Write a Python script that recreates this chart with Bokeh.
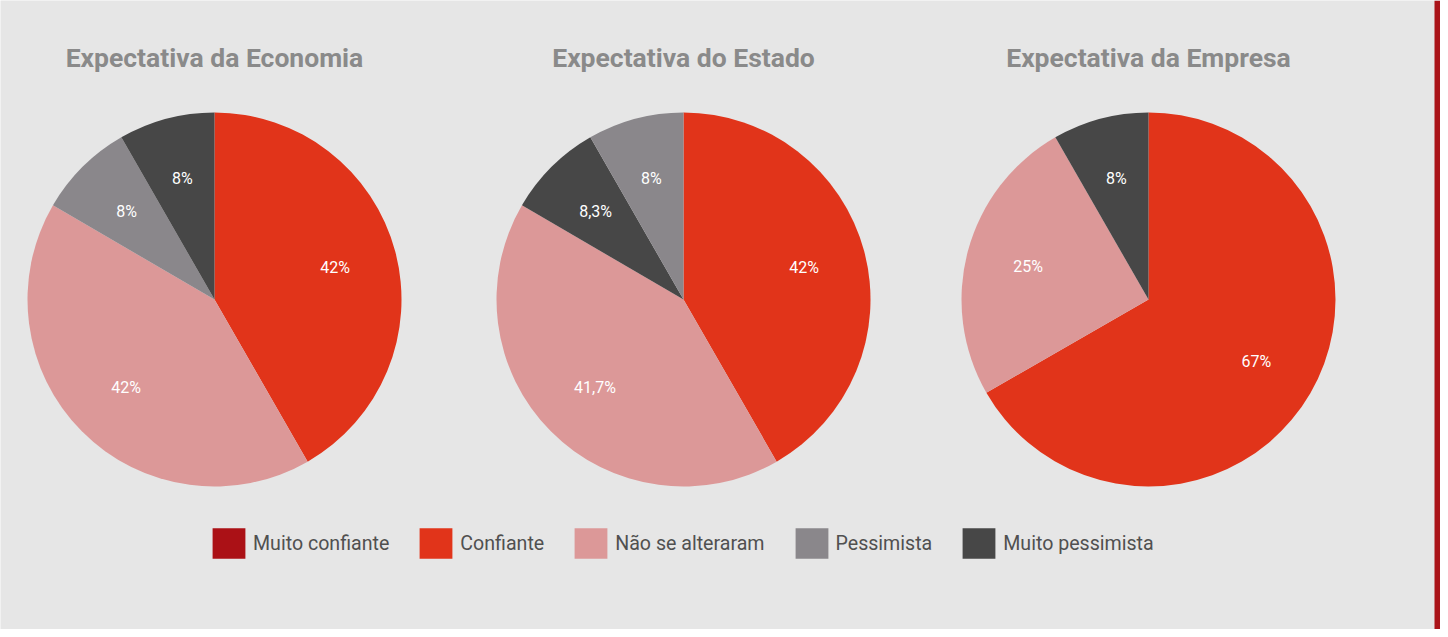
import math
from bokeh.plotting import figure
from bokeh.models import ColumnDataSource, Range1d, Legend, LegendItem, BoxAnnotation
from bokeh.core.properties import value
from bokeh.embed import file_html
from bokeh.resources import INLINE

# ---------------- data ----------------
categories = ["Muito confiante", "Confiante", "Não se alteraram", "Pessimista", "Muito pessimista"]
cat_colors = ["#ab1116", "#e1341a", "#dc9898", "#8a878b", "#474747"]

titles = ["Expectativa da Economia", "Expectativa do Estado", "Expectativa da Empresa"]

economia_cats = ["Confiante", "Não se alteraram", "Pessimista", "Muito pessimista"]
economia_vals = [41.7, 41.7, 8.3, 8.3]
economia_labels = ["42%", "42%", "8%", "8%"]

estado_cats = ["Confiante", "Não se alteraram", "Muito pessimista", "Pessimista"]
estado_vals = [41.7, 41.7, 8.3, 8.3]
estado_labels = ["42%", "41,7%", "8,3%", "8%"]

empresa_cats = ["Confiante", "Não se alteraram", "Muito pessimista"]
empresa_vals = [66.7, 25.0, 8.3]
empresa_labels = ["67%", "25%", "8%"]

# ---------------- layout ----------------
W, H = 1440, 629
BG = "#e6e6e6"
R = 187
centers_x = [214, 683, 1148]
center_y = 330
title_y = 572
FONT = "Roboto"

p = figure(width=W, height=H, x_range=Range1d(0, W), y_range=Range1d(0, H),
           output_backend="svg", toolbar_location=None, min_border=0,
           x_axis_type=None, y_axis_type=None,
           background_fill_color=BG, border_fill_color=BG, outline_line_color=None)
p.grid.visible = False

color_of = dict(zip(categories, cat_colors))

pies = [(economia_cats, economia_vals, economia_labels),
        (estado_cats, estado_vals, estado_labels),
        (empresa_cats, empresa_vals, empresa_labels)]

for (cats, vals, labels), cx, title in zip(pies, centers_x, titles):
    total = sum(vals)
    starts, ends, lx, ly = [], [], [], []
    cum = 0.0
    for v in vals:
        a0 = math.pi / 2 - 2 * math.pi * cum / total
        a1 = math.pi / 2 - 2 * math.pi * (cum + v) / total
        mid = math.pi / 2 - 2 * math.pi * (cum + v / 2) / total
        starts.append(a0)
        ends.append(a1)
        lx.append(cx + 0.667 * R * math.cos(mid))
        ly.append(center_y + 0.667 * R * math.sin(mid))
        cum += v
    src = ColumnDataSource(dict(
        x=[cx] * len(vals), y=[center_y] * len(vals),
        start=starts, end=ends,
        color=[color_of[c] for c in cats],
        lx=lx, ly=ly, label=labels))
    p.wedge(x="x", y="y", radius=R, start_angle="start", end_angle="end",
            direction="clock", fill_color="color", line_color=None, source=src)
    p.text(x="lx", y="ly", text="label", source=src, text_color="white",
           text_font=value(FONT), text_font_size="16px",
           text_align="center", text_baseline="middle")
    p.text(x=[cx], y=[title_y], text=[title], text_color="#8a8a8a",
           text_font=value(FONT), text_font_size="26.5px", text_font_style="bold",
           text_align="center", text_baseline="middle")

# legend via zero-area quads carrying the category colours
leg_src = ColumnDataSource(dict(l=[0] * 5, r=[0] * 5, b=[0] * 5, t=[0] * 5,
                                color=cat_colors, cat=categories))
leg_r = p.quad(left="l", right="r", bottom="b", top="t", fill_color="color",
               line_color=None, source=leg_src)
items = [LegendItem(label=c, renderers=[leg_r], index=i) for i, c in enumerate(categories)]
legend = Legend(items=items, orientation="horizontal", location=(208, 67),
                glyph_width=41, glyph_height=38, label_standoff=4, spacing=26,
                padding=0, margin=0, border_line_color=None,
                background_fill_alpha=0, label_text_font=FONT,
                label_text_font_size="19.6px", label_text_color="#505050")
p.add_layout(legend)

# red edge bar
p.add_layout(BoxAnnotation(left=1434, right=1440, fill_color="#aa1419",
                           fill_alpha=1, line_color=None))

open("out.html", "w").write(file_html(p, INLINE))
